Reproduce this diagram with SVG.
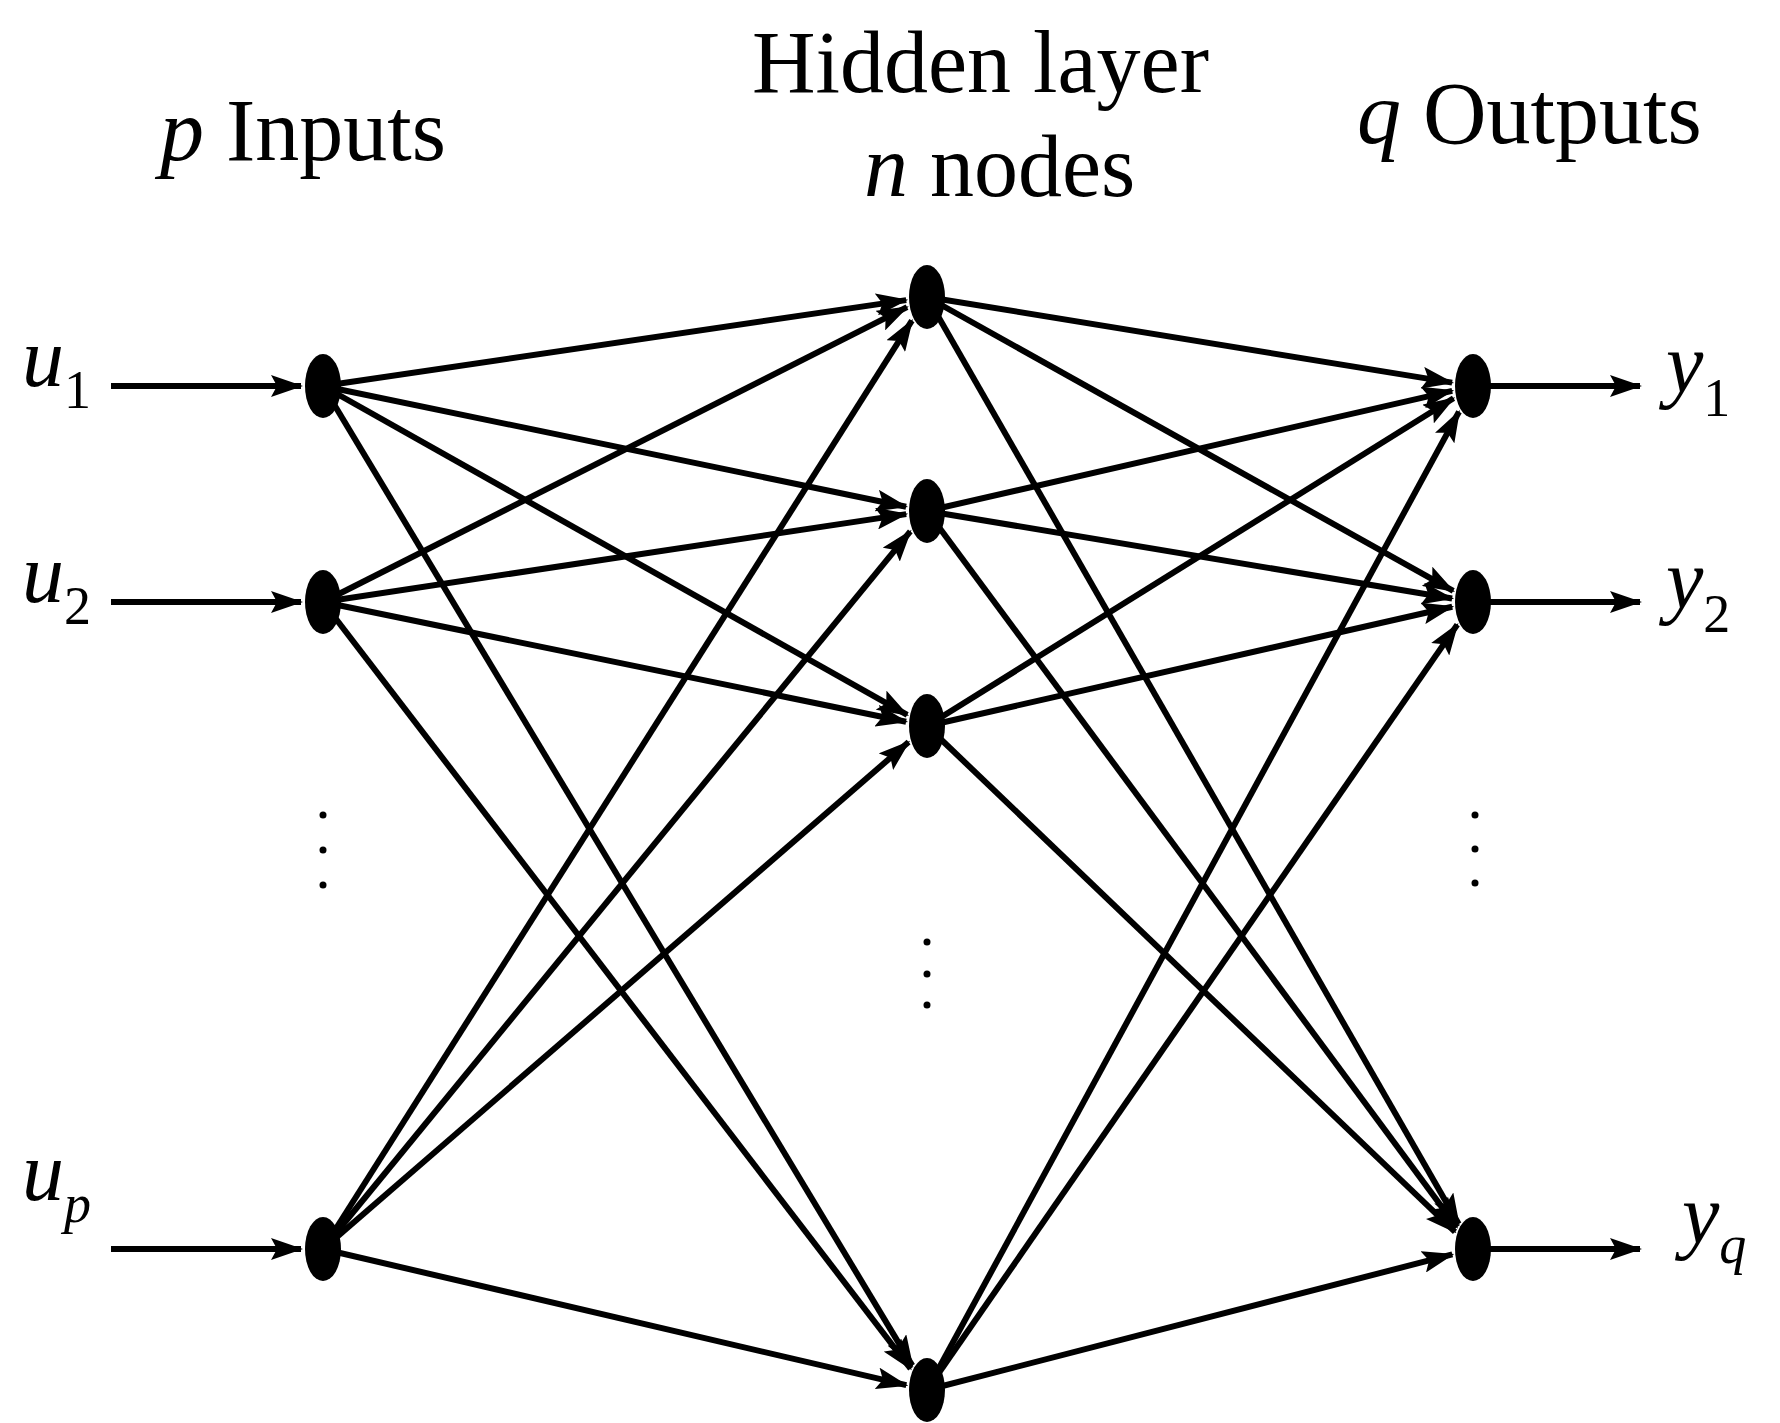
<svg xmlns="http://www.w3.org/2000/svg" width="1780" height="1423" viewBox="0 0 1780 1423">
<style>
.t{font-family:"Liberation Serif",serif;fill:#000}
.i{font-style:italic}
.e line{stroke:#000;stroke-width:6;marker-end:url(#a)}
.n{fill:#000}
.d{fill:#000}
</style>
<defs><marker id="a" markerUnits="userSpaceOnUse" viewBox="0 0 32 22" markerWidth="32" markerHeight="22" refX="30" refY="11" orient="auto"><path d="M0,0 L32,11 L0,22 L6,11 z" fill="#000"/></marker></defs>
<rect width="1780" height="1423" fill="#fff"/>
<text class="t" x="160" y="160" font-size="88"><tspan class="i">p</tspan> Inputs</text>
<text class="t" x="752" y="92" font-size="88">Hidden layer</text>
<text class="t" x="864" y="196" font-size="88"><tspan class="i">n</tspan> nodes</text>
<text class="t" x="1357" y="143" font-size="88"><tspan class="i">q</tspan> Outputs</text>
<g class="t" font-size="84">
<text x="22" y="386"><tspan class="i">u</tspan><tspan font-size="54" dy="22">1</tspan></text>
<text x="22" y="602"><tspan class="i">u</tspan><tspan font-size="54" dy="22">2</tspan></text>
<text x="22" y="1200"><tspan class="i">u</tspan><tspan font-size="54" dy="22" class="i">p</tspan></text>
<text x="1666" y="392"><tspan class="i">y</tspan><tspan font-size="54" dy="24">1</tspan></text>
<text x="1666" y="608"><tspan class="i">y</tspan><tspan font-size="54" dy="24">2</tspan></text>
<text x="1682" y="1243"><tspan class="i">y</tspan><tspan font-size="54" dy="20" class="i">q</tspan></text>
</g>
<g id="connectors" class="e">
<line x1="111" y1="386" x2="301" y2="386"/>
<line x1="111" y1="602" x2="301" y2="602"/>
<line x1="111" y1="1249" x2="301" y2="1249"/>
<line x1="1473" y1="386" x2="1640" y2="386"/>
<line x1="1473" y1="602" x2="1640" y2="602"/>
<line x1="1473" y1="1249" x2="1640" y2="1249"/>
<line x1="323" y1="386" x2="906.2" y2="300.1"/>
<line x1="323" y1="386" x2="906.1" y2="506.7"/>
<line x1="323" y1="386" x2="907.2" y2="714.9"/>
<line x1="323" y1="386" x2="912.3" y2="1365.6"/>
<line x1="323" y1="602" x2="907" y2="307.1"/>
<line x1="323" y1="602" x2="906.2" y2="514.1"/>
<line x1="323" y1="602" x2="906.1" y2="721.7"/>
<line x1="323" y1="602" x2="910.6" y2="1368.7"/>
<line x1="323" y1="1249" x2="911.9" y2="320.7"/>
<line x1="323" y1="1249" x2="910.3" y2="531.4"/>
<line x1="323" y1="1249" x2="908.6" y2="742"/>
<line x1="323" y1="1249" x2="906.3" y2="1385.2"/>
<line x1="927" y1="297" x2="1452.1" y2="382.6"/>
<line x1="927" y1="297" x2="1453.2" y2="590.9"/>
<line x1="927" y1="297" x2="1458.7" y2="1224"/>
<line x1="927" y1="511" x2="1452.2" y2="390.8"/>
<line x1="927" y1="511" x2="1452.1" y2="598.5"/>
<line x1="927" y1="511" x2="1456.9" y2="1227.2"/>
<line x1="927" y1="726" x2="1453.5" y2="398.2"/>
<line x1="927" y1="726" x2="1452.2" y2="606.7"/>
<line x1="927" y1="726" x2="1455" y2="1231.8"/>
<line x1="927" y1="1390" x2="1459" y2="411.7"/>
<line x1="927" y1="1390" x2="1457.3" y2="624.6"/>
<line x1="927" y1="1390" x2="1452.3" y2="1254.4"/>
</g>
<g id="in1"><ellipse class="n" cx="323" cy="386" rx="18" ry="32"/></g>
<g id="in2"><ellipse class="n" cx="323" cy="602" rx="18" ry="32"/></g>
<g id="inp"><ellipse class="n" cx="323" cy="1249" rx="18" ry="32"/></g>
<g id="h1"><ellipse class="n" cx="927" cy="297" rx="18" ry="32"/></g>
<g id="h2"><ellipse class="n" cx="927" cy="511" rx="18" ry="32"/></g>
<g id="h3"><ellipse class="n" cx="927" cy="726" rx="18" ry="32"/></g>
<g id="hn"><ellipse class="n" cx="927" cy="1390" rx="18" ry="32"/></g>
<g id="o1"><ellipse class="n" cx="1473" cy="386" rx="18" ry="32"/></g>
<g id="o2"><ellipse class="n" cx="1473" cy="602" rx="18" ry="32"/></g>
<g id="oq"><ellipse class="n" cx="1473" cy="1249" rx="18" ry="32"/></g>
<g id="dots">
<circle class="d" cx="323" cy="815" r="3.5"/><circle class="d" cx="323" cy="850" r="3.5"/><circle class="d" cx="323" cy="885" r="3.5"/>
<circle class="d" cx="927" cy="942" r="3.5"/><circle class="d" cx="927" cy="974" r="3.5"/><circle class="d" cx="927" cy="1005" r="3.5"/>
<circle class="d" cx="1475" cy="815" r="3.5"/><circle class="d" cx="1475" cy="849" r="3.5"/><circle class="d" cx="1475" cy="883" r="3.5"/>
</g>
</svg>
